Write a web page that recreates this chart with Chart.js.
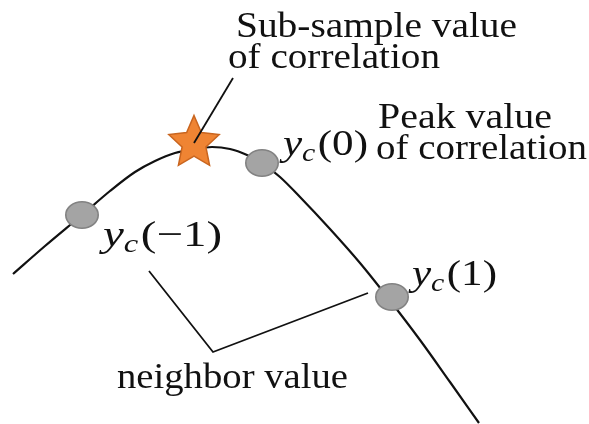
<!DOCTYPE html>
<html>
<head>
<meta charset="utf-8">
<script src="https://cdn.jsdelivr.net/npm/chart.js@4/dist/chart.umd.min.js"></script>
<style>
html,body{margin:0;padding:0;background:#fff;}
#wrap{width:589px;height:424px;}
</style>
</head>
<body>
<div id="wrap"><canvas id="c" width="589" height="424"></canvas></div>
<script>
// ---- data (diagram coordinates) ----
const curveX = [13, 45, 82, 110, 135, 155, 175, 195, 212, 230, 247, 262, 280, 300, 330, 360, 388, 420, 450, 479];
const curveY = [274, 246, 215, 191, 172, 161, 153, 149, 147, 149, 155, 163, 177, 197, 229, 263, 298, 340, 382, 423];
const sampleX = [82, 262, 392];
const sampleY = [215, 163, 297];
const starX = [194];
const starY = [143];
const pointerX = [194, 233];
const pointerY = [143, 78];
const bracketX = [149, 213, 368];
const bracketY = [271, 352, 293];

const textLabels = ['Sub-sample value', 'of correlation', 'Peak value', 'of correlation', 'neighbor value'];
const textX = [236, 228, 378, 376, 117];
const textY = [37, 68, 128, 159, 388];
const textW = [281, 212, 174, 211, 231];

const mathArgs = ['0', '\u22121', '1'];
const mathX = [283, 103, 412];
const mathY = [155, 246, 285];
const mathW = [85, 119, 85];

const pts = (xs, ys) => xs.map((x, i) => ({x: x, y: ys[i]}));

// ---- point style images ----
function ellipseImg() {
  const c = document.createElement('canvas');
  c.width = 36; c.height = 30;
  const g = c.getContext('2d');
  g.beginPath();
  g.ellipse(18, 15, 16.2, 13.2, 0, 0, Math.PI * 2);
  g.fillStyle = '#a4a4a4';
  g.fill();
  g.lineWidth = 1.6;
  g.strokeStyle = '#828282';
  g.stroke();
  return c;
}
function starImg() {
  const c = document.createElement('canvas');
  c.width = 60; c.height = 60;
  const g = c.getContext('2d');
  const R = 26.5, r = 12.5, cx = 30, cy = 30;
  g.beginPath();
  for (let i = 0; i < 10; i++) {
    const a = -Math.PI / 2 + i * Math.PI / 5;
    const rr = i % 2 === 0 ? R : r;
    const x = cx + rr * Math.cos(a), y = cy + rr * Math.sin(a) * 1.04;
    if (i === 0) g.moveTo(x, y); else g.lineTo(x, y);
  }
  g.closePath();
  g.fillStyle = '#ef8433';
  g.fill();
  g.lineWidth = 1.5;
  g.strokeStyle = '#c9651f';
  g.stroke();
  return c;
}

const SERIF = '"Liberation Serif", "Times New Roman", serif';

const labelPlugin = {
  id: 'labels',
  afterDatasetsDraw(chart) {
    const ctx = chart.ctx, xs = chart.scales.x, ys = chart.scales.y;
    ctx.save();
    ctx.fillStyle = '#111';
    ctx.textBaseline = 'alphabetic';
    ctx.textAlign = 'left';
    // plain labels
    textLabels.forEach((t, i) => {
      const px = xs.getPixelForValue(textX[i]);
      const py = ys.getPixelForValue(textY[i]);
      const pw = xs.getPixelForValue(textX[i] + textW[i]) - px;
      ctx.font = '35px ' + SERIF;
      const m = ctx.measureText(t).width;
      ctx.save();
      ctx.translate(px, py);
      ctx.scale(pw / m, 1);
      ctx.fillText(t, 0, 0);
      ctx.restore();
    });
    // math labels y_c(n)
    mathArgs.forEach((a, i) => {
      const segs = [
        {t: 'y', f: 'italic 36px ' + SERIF, dy: 0},
        {t: 'c', f: 'italic 25px ' + SERIF, dy: 6},
        {t: '(' + a + ')', f: '36px ' + SERIF, dy: 0, pad: 2}
      ];
      let total = 0;
      segs.forEach(s => { ctx.font = s.f; s.w = ctx.measureText(s.t).width; total += s.w + (s.pad || 0); });
      const px = xs.getPixelForValue(mathX[i]);
      const py = ys.getPixelForValue(mathY[i]);
      const pw = xs.getPixelForValue(mathX[i] + mathW[i]) - px;
      ctx.save();
      ctx.translate(px, py);
      ctx.scale(pw / total, 1);
      let cx = 0;
      segs.forEach(s => {
        cx += (s.pad || 0);
        ctx.font = s.f;
        ctx.fillText(s.t, cx, s.dy);
        cx += s.w;
      });
      ctx.restore();
    });
    ctx.restore();
  }
};

new Chart(document.getElementById('c'), {
  type: 'line',
  data: {
    datasets: [
      { label: 'pointer', data: pts(pointerX, pointerY), borderColor: '#111', borderWidth: 1.8, pointRadius: 0, tension: 0 },
      { label: 'sub-sample', type: 'scatter', data: pts(starX, starY), pointStyle: starImg(), pointRadius: 27 },
      { label: 'samples', type: 'scatter', data: pts(sampleX, sampleY), pointStyle: ellipseImg(), pointRadius: 16 },
      { label: 'correlation', data: pts(curveX, curveY), borderColor: '#111', borderWidth: 2.2, pointRadius: 0, cubicInterpolationMode: 'monotone' },
      { label: 'bracket', data: pts(bracketX, bracketY), borderColor: '#111', borderWidth: 1.8, pointRadius: 0, tension: 0 }
    ]
  },
  options: {
    responsive: false,
    animation: false,
    devicePixelRatio: 1,
    layout: { padding: 0, autoPadding: false },
    plugins: { legend: { display: false }, tooltip: { enabled: false }, title: { display: false } },
    events: [],
    scales: {
      x: { type: 'linear', min: 0, max: 589, display: false },
      y: { type: 'linear', min: 0, max: 424, reverse: true, display: false }
    }
  },
  plugins: [labelPlugin]
});
</script>
</body>
</html>
